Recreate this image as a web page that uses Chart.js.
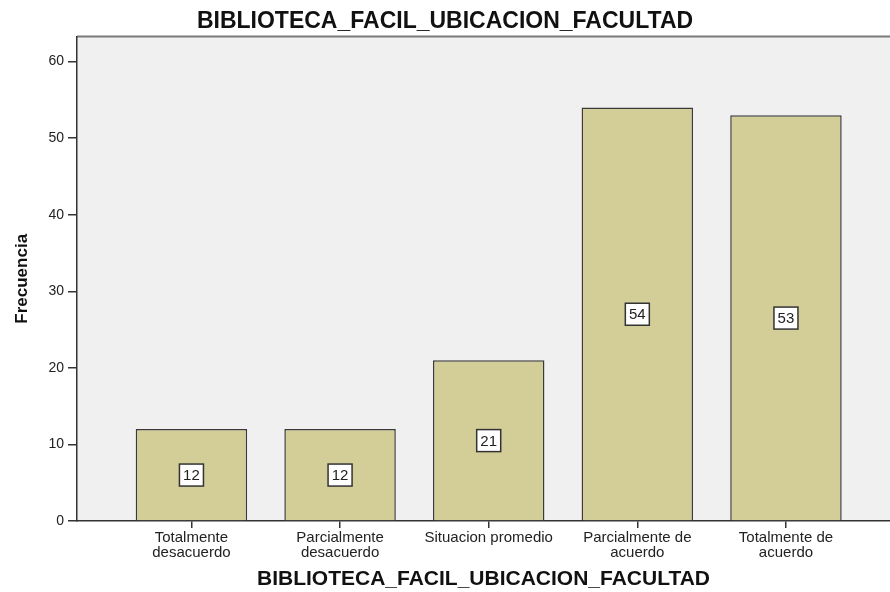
<!DOCTYPE html>
<html>
<head>
<meta charset="utf-8">
<script src="https://cdn.jsdelivr.net/npm/chart.js@4"></script>
<style>
  html, body { margin: 0; padding: 0; background: #fff; }
  #wrap { width: 890px; height: 592px; }
</style>
</head>
<body>
<div id="wrap"><canvas id="chart"></canvas></div>
<script>
const categories = [
    ['Totalmente', 'desacuerdo'],
    ['Parcialmente', 'desacuerdo'],
    'Situacion promedio',
    ['Parcialmente de', 'acuerdo'],
    ['Totalmente de', 'acuerdo']
];
const frecuencia = [12, 12, 21, 54, 53];
const yTicks = [0, 10, 20, 30, 40, 50, 60];

const FONT = "'Liberation Sans', Arial, sans-serif";

// plot background + top border
const plotBg = {
    id: 'plotBg',
    beforeDraw(chart) {
        const {ctx, chartArea: a} = chart;
        ctx.save();
        ctx.fillStyle = '#f0f0f0';
        ctx.fillRect(a.left, a.top, a.right - a.left, a.bottom - a.top);
        ctx.strokeStyle = '#7a7a7a';
        ctx.lineWidth = 2;
        ctx.beginPath();
        ctx.moveTo(a.left, a.top);
        ctx.lineTo(a.right, a.top);
        ctx.stroke();
        ctx.restore();
    }
};

// boxed value labels in the middle of each bar
const boxLabels = {
    id: 'boxLabels',
    afterDatasetsDraw(chart) {
        const {ctx} = chart;
        const meta = chart.getDatasetMeta(0);
        const yScale = chart.scales.y;
        ctx.save();
        ctx.font = '15px ' + FONT;
        ctx.textAlign = 'center';
        ctx.textBaseline = 'middle';
        meta.data.forEach((bar, i) => {
            const v = frecuencia[i];
            const cy = yScale.getPixelForValue(v / 2);
            const w = 24, h = 22;
            ctx.fillStyle = '#fff';
            ctx.fillRect(bar.x - w / 2, cy - h / 2, w, h);
            ctx.strokeStyle = '#333';
            ctx.lineWidth = 1.5;
            ctx.strokeRect(bar.x - w / 2, cy - h / 2, w, h);
            ctx.fillStyle = '#222';
            ctx.fillText(String(v), bar.x, cy + 1);
        });
        ctx.restore();
    }
};

new Chart(document.getElementById('chart'), {
    type: 'bar',
    data: {
        datasets: [{
            label: 'Frecuencia',
            data: frecuencia.map((v, i) => ({x: i, y: v})),
            backgroundColor: '#d3ce97',
            borderColor: '#3a3a3a',
            borderWidth: 1.5,
            barPercentage: 0.75,
            categoryPercentage: 1
        }]
    },
    options: {
        responsive: true,
        maintainAspectRatio: false,
        animation: false,
        layout: { padding: 0 },
        plugins: {
            legend: { display: false },
            tooltip: { enabled: false },
            title: {
                display: true,
                text: 'BIBLIOTECA_FACIL_UBICACION_FACULTAD',
                color: '#111',
                font: { family: FONT, size: 23, weight: 'bold' },
                padding: { top: 8, bottom: 1 }
            }
        },
        scales: {
            x: {
                type: 'linear',
                offset: false,
                min: -0.77,
                max: 4.70,
                afterBuildTicks(scale) {
                    scale.ticks = categories.map((_, i) => ({value: i}));
                },
                afterFit(scale) { scale.height = 71; },
                ticks: {
                    autoSkip: false,
                    maxRotation: 0,
                    padding: 3,
                    color: '#222',
                    font: { family: FONT, size: 15, lineHeight: 0.95 },
                    callback: (v) => categories[v]
                },
                grid: {
                    offset: false,
                    drawOnChartArea: false,
                    drawTicks: true,
                    tickLength: 7,
                    color: '#333',
                    lineWidth: 1.5
                },
                border: { display: true, color: '#333', width: 1.5 },
                title: {
                    display: true,
                    text: 'BIBLIOTECA_FACIL_UBICACION_FACULTAD',
                    color: '#111',
                    font: { family: FONT, size: 21, weight: 'bold' },
                    padding: { top: 0, bottom: 0 }
                }
            },
            y: {
                min: 0,
                max: 63.26,
                afterBuildTicks(scale) {
                    scale.ticks = yTicks.map(v => ({value: v}));
                },
                afterFit(scale) { scale.width = 77; },
                ticks: {
                    padding: 4,
                    color: '#222',
                    font: { family: FONT, size: 14 }
                },
                grid: {
                    drawOnChartArea: false,
                    drawTicks: true,
                    tickLength: 9,
                    color: '#333',
                    lineWidth: 1.5
                },
                border: { display: true, color: '#333', width: 1.5 },
                title: {
                    display: true,
                    text: 'Frecuencia',
                    color: '#111',
                    font: { family: FONT, size: 17, weight: 'bold' },
                    padding: { top: 12, bottom: 0 }
                }
            }
        }
    },
    plugins: [plotBg, boxLabels]
});
</script>
</body>
</html>
